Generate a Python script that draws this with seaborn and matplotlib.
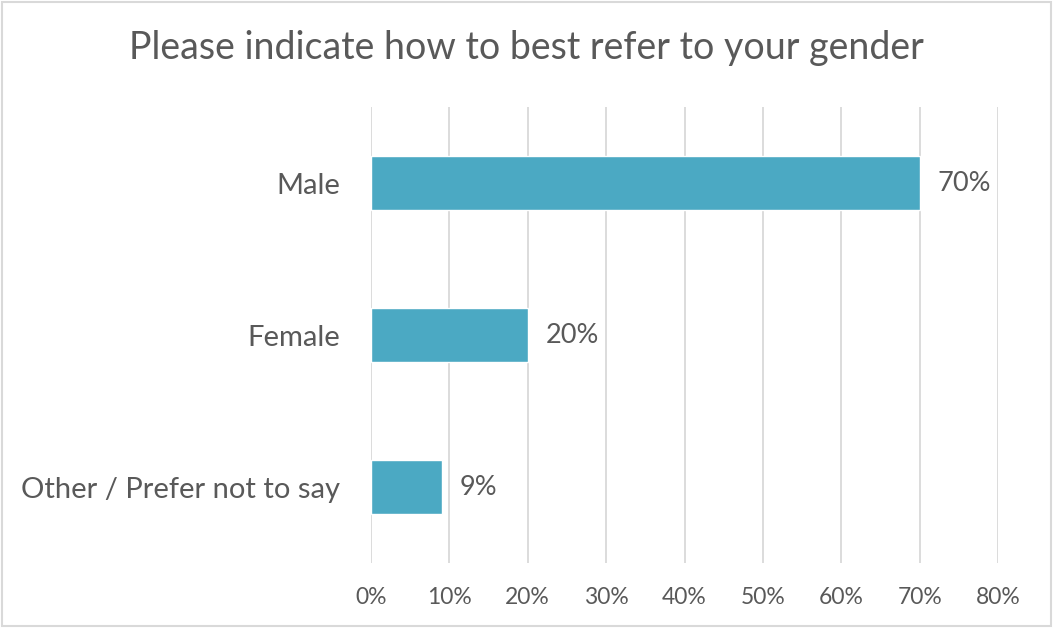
import matplotlib
matplotlib.use("Agg")
import matplotlib.pyplot as plt
from matplotlib.patches import Rectangle
from matplotlib.ticker import FuncFormatter
import seaborn as sns
import pandas as pd

categories = ["Male", "Female", "Other / Prefer not to say"]
shares = [70, 20, 9]
x_ticks = [0, 10, 20, 30, 40, 50, 60, 70, 80]
title = "Please indicate how to best refer to your gender"

sns.set_theme(style="white")
plt.rcParams["font.family"] = ["Lato", "DejaVu Sans"]

text_color = "#595959"
bar_color = "#4BA9C3"
grid_color = "#D9D9D9"

df = pd.DataFrame({"category": categories, "share": shares})

fig = plt.figure(figsize=(10.53, 6.28), dpi=100)
ax = fig.add_axes([0.3523, 0.1035, 0.5955, 0.7261])

sns.barplot(data=df, x="share", y="category", orient="h", color=bar_color,
            width=0.355, saturation=1, ax=ax, zorder=3)

ax.set_xlim(0, 80)
ax.set_ylim(2.5, -0.5)
ax.set_xticks(x_ticks)
ax.xaxis.set_major_formatter(FuncFormatter(lambda v, _: f"{v:.0f}%"))
ax.grid(axis="x", color=grid_color, linewidth=1.3, zorder=0)
ax.grid(axis="y", visible=False)
for s in ax.spines.values():
    s.set_visible(False)
ax.set_xlabel("")
ax.set_ylabel("")
ax.tick_params(axis="x", labelsize=16.5, labelcolor=text_color, length=0, pad=17)
ax.tick_params(axis="y", labelsize=21, labelcolor=text_color, length=0, pad=22)

for i, v in enumerate(shares):
    ax.text(v + 2.3, i, f"{v}%", va="center", ha="left", fontsize=19.5, color=text_color)

fig.text(0.5, 0.924, title, ha="center", va="center", fontsize=27, color=text_color)

fig.patches.append(Rectangle((0.0015, 0.0025), 0.997, 0.995, transform=fig.transFigure,
                             fill=False, edgecolor=grid_color, linewidth=1.5))

fig.savefig("out.png", dpi=100)
